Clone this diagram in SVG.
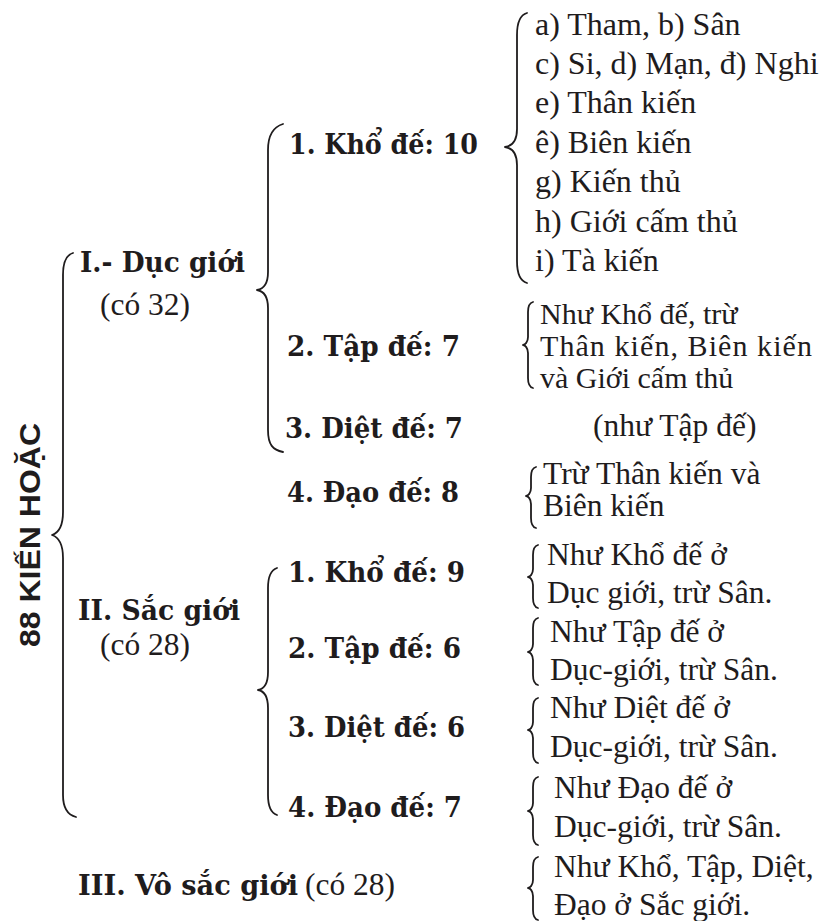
<svg xmlns="http://www.w3.org/2000/svg" width="820" height="921" viewBox="0 0 820 921">
<style>
.r{font-family:"Liberation Serif","Times New Roman",serif;font-size:31.5px;fill:#1f1c1d}
.s{font-family:"Liberation Serif","Times New Roman",serif;font-size:30px;fill:#1f1c1d}
.l{font-family:"Liberation Serif","Times New Roman",serif;font-size:32px;fill:#1f1c1d}
.b{font-family:"DejaVu Serif","Liberation Serif",serif;font-size:27px;font-weight:bold;fill:#1f1c1d}
.v{font-family:"Liberation Sans","DejaVu Sans",sans-serif;font-size:29px;font-weight:bold;fill:#1f1c1d}
.br{fill:none;stroke:#1f1c1d;stroke-width:1.8;stroke-linecap:round;stroke-linejoin:round}
</style>
<rect width="820" height="921" fill="#ffffff"/>
<g id="connectors">
<path class="br" d="M73,253 C66,255 63,262 63,275 L63,512 C63,526 58,533 52,535 C58,537 63,544 63,558 L63,795 C63,808 68,815 76,817"/>
<path class="br" d="M283,124 C273,127 268,135 268,150 L268,272 C268,284 263,289 257,290 C263,291 268,296 268,308 L268,430 C268,445 273,450 283,452"/>
<path class="br" d="M277,568 C271,570 268,576 268,588 L268,672 C268,684 264,689 258,690 C264,691 268,696 268,708 L268,795 C268,807 271,813 277,815"/>
<path class="br" d="M527,13 C520,15 517,22 517,35 L517,129 C517,141 512,146 505,147 C512,148 517,153 517,165 L517,261 C517,274 520,281 527,283"/>
<path class="br" d="M533,302 C529,303 528,306 528,312 L528,337 C528,342 525,345 523,345 C525,345 528,348 528,353 L528,378 C528,384 529,387 533,388"/>
<path class="br" d="M536,467 C532,468 531,471 531,477 L531,488 C531,493 528,496 526,496 C528,496 531,499 531,504 L531,518 C531,524 532,527 536,528"/>
<path class="br" d="M538,545 C534,546 533,549 533,555 L533,569 C533,574 530,577 528,577 C530,577 533,580 533,585 L533,598 C533,604 534,607 538,608"/>
<path class="br" d="M538,618 C534,619 533,622 533,628 L533,644 C533,649 530,652 528,652 C530,652 533,655 533,660 L533,675 C533,681 534,684 538,685"/>
<path class="br" d="M538,698 C534,699 533,702 533,708 L533,722 C533,727 530,730 528,730 C530,730 533,733 533,738 L533,753 C533,759 534,762 538,763"/>
<path class="br" d="M538,777 C534,778 533,781 533,787 L533,803 C533,808 530,811 528,811 C530,811 533,814 533,819 L533,835 C533,841 534,844 538,845"/>
<path class="br" d="M538,857 C534,858 533,861 533,867 L533,880 C533,885 530,888 528,888 C530,888 533,891 533,896 L533,910 C533,916 534,919 538,920"/>
</g>
<g id="root">
<text class="v" transform="translate(40,535) rotate(-90)" x="0" y="0" text-anchor="middle" textLength="224" lengthAdjust="spacingAndGlyphs">88 KIẾN HOẶC</text>
</g>
<g id="duc-gioi">
<text class="b" x="80" y="272" textLength="165" lengthAdjust="spacingAndGlyphs">I.- Dục giới</text>
<text class="r" x="100" y="315">(có 32)</text>
</g>
<g id="duc-kho">
<text class="b" x="289" y="154" textLength="189" lengthAdjust="spacingAndGlyphs">1. Khổ đế: 10</text>
</g>
<g id="duc-kho-list">
<text class="l" x="535" y="35">a) Tham, b) Sân</text>
<text class="l" x="535" y="74">c) Si, d) Mạn, đ) Nghi</text>
<text class="l" x="535" y="113">e) Thân kiến</text>
<text class="l" x="535" y="153">ê) Biên kiến</text>
<text class="l" x="535" y="192">g) Kiến thủ</text>
<text class="l" x="535" y="232">h) Giới cấm thủ</text>
<text class="l" x="535" y="271">i) Tà kiến</text>
</g>
<g id="duc-tap">
<text class="b" x="287" y="356" textLength="173" lengthAdjust="spacingAndGlyphs">2. Tập đế: 7</text>
</g>
<g id="duc-tap-note">
<text class="s" x="540" y="324">Như Khổ đế, trừ</text>
<text class="s" x="540" y="356" textLength="272" lengthAdjust="spacing">Thân kiến, Biên kiến</text>
<text class="s" x="540" y="388">và Giới cấm thủ</text>
</g>
<g id="duc-diet">
<text class="b" x="285" y="438" textLength="178" lengthAdjust="spacingAndGlyphs">3. Diệt đế: 7</text>
</g>
<g id="duc-diet-note">
<text class="r" x="593" y="436">(như Tập đế)</text>
</g>
<g id="duc-dao">
<text class="b" x="287" y="502" textLength="172" lengthAdjust="spacingAndGlyphs">4. Đạo đế: 8</text>
</g>
<g id="duc-dao-note">
<text class="r" x="543" y="484">Trừ Thân kiến và</text>
<text class="r" x="543" y="516">Biên kiến</text>
</g>
<g id="sac-gioi">
<text class="b" x="78" y="620" textLength="162" lengthAdjust="spacingAndGlyphs">II. Sắc giới</text>
<text class="r" x="100" y="655">(có 28)</text>
</g>
<g id="sac-kho">
<text class="b" x="288" y="582" textLength="177" lengthAdjust="spacingAndGlyphs">1. Khổ đế: 9</text>
</g>
<g id="sac-kho-note">
<text class="r" x="547" y="565">Như Khổ đế ở</text>
<text class="r" x="547" y="603">Dục giới, trừ Sân.</text>
</g>
<g id="sac-tap">
<text class="b" x="288" y="658" textLength="173" lengthAdjust="spacingAndGlyphs">2. Tập đế: 6</text>
</g>
<g id="sac-tap-note">
<text class="r" x="550" y="642">Như Tập đế ở</text>
<text class="r" x="550" y="680">Dục-giới, trừ Sân.</text>
</g>
<g id="sac-diet">
<text class="b" x="288" y="737" textLength="177" lengthAdjust="spacingAndGlyphs">3. Diệt đế: 6</text>
</g>
<g id="sac-diet-note">
<text class="r" x="550" y="718">Như Diệt đế ở</text>
<text class="r" x="550" y="757">Dục-giới, trừ Sân.</text>
</g>
<g id="sac-dao">
<text class="b" x="288" y="817" textLength="174" lengthAdjust="spacingAndGlyphs">4. Đạo đế: 7</text>
</g>
<g id="sac-dao-note">
<text class="r" x="554" y="798">Như Đạo đế ở</text>
<text class="r" x="554" y="837">Dục-giới, trừ Sân.</text>
</g>
<g id="vo-sac-gioi">
<text x="78" y="895"><tspan class="b" textLength="220" lengthAdjust="spacingAndGlyphs">III. Vô sắc giới</tspan><tspan class="r" x="305">(có 28)</tspan></text>
</g>
<g id="vo-sac-note">
<text class="r" x="554" y="877">Như Khổ, Tập, Diệt,</text>
<text class="r" x="554" y="915">Đạo ở Sắc giới.</text>
</g>
</svg>
